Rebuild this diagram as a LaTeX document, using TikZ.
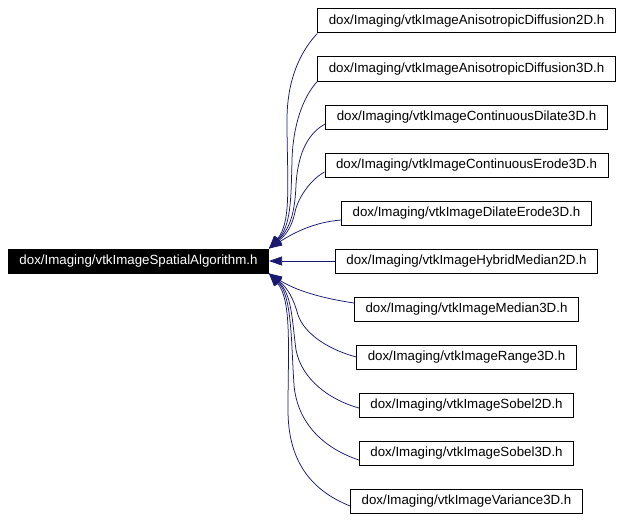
\documentclass[tikz,border=0pt]{standalone}
\usepackage{fontspec}
\setmainfont{Liberation Sans}
\usetikzlibrary{arrows.meta,calc}
\definecolor{edgeblue}{RGB}{25,25,112}
\begin{document}
\begin{tikzpicture}[x=1pt,y=-1pt,
  every node/.style={font=\fontsize{13.3pt}{16pt}\selectfont, inner xsep=11pt, inner ysep=0pt, minimum height=24pt},
  filebox/.style={draw=black, line width=1pt, fill=white, text=black},
  mainbox/.style={draw=black, line width=1pt, fill=black, text=white},
  edge/.style={draw=edgeblue, line width=0.75pt, -{Triangle[length=13pt,width=9pt,fill=edgeblue]}}]
\useasboundingbox (0,0) rectangle (623,519);
\node[mainbox] (main) at (138.5,261) {dox/Imaging/vtkImageSpatialAlgorithm.h};
\node[filebox] (b1) at (466.5,21) {dox/Imaging/vtkImageAnisotropicDiffusion2D.h};
\node[filebox] (b2) at (466.5,69) {dox/Imaging/vtkImageAnisotropicDiffusion3D.h};
\node[filebox] (b3) at (466.5,117) {dox/Imaging/vtkImageContinuousDilate3D.h};
\node[filebox] (b4) at (466.5,165) {dox/Imaging/vtkImageContinuousErode3D.h};
\node[filebox] (b5) at (466.5,213) {dox/Imaging/vtkImageDilateErode3D.h};
\node[filebox] (b6) at (466.5,261) {dox/Imaging/vtkImageHybridMedian2D.h};
\node[filebox] (b7) at (466.5,309) {dox/Imaging/vtkImageMedian3D.h};
\node[filebox] (b8) at (466.5,357) {dox/Imaging/vtkImageRange3D.h};
\node[filebox] (b9) at (466.5,405) {dox/Imaging/vtkImageSobel2D.h};
\node[filebox] (b10) at (466.5,453) {dox/Imaging/vtkImageSobel3D.h};
\node[filebox] (b11) at (466.5,501) {dox/Imaging/vtkImageVariance3D.h};
% upper edges
\draw[edge] (b1.south west) .. controls (300,52) and (287,80) .. (287,120) .. controls (287,180) and (292,222) .. (main.north east);
\draw[edge] (b2.south west) .. controls (303,97) and (293,125) .. (292,160) .. controls (291,200) and (291,226) .. (main.north east);
\draw[edge] ($(b3.west)+(0,7)$) .. controls (310,132) and (298,150) .. (296,185) .. controls (295,210) and (291,228) .. (main.north east);
\draw[edge] ($(b4.west)+(0,7)$) .. controls (310,180) and (298,198) .. (295,212) .. controls (292,226) and (287,234) .. (main.north east);
\draw[edge] ($(b5.west)+(0,7)$) .. controls (315,222) and (295,232) .. (main.north east);
% middle edge
\draw[edge] (b6.west) -- (main.east);
% lower edges
\draw[edge] ($(b7.west)+(0,-6)$) .. controls (320,298) and (295,290) .. (main.south east);
\draw[edge] (b8.west) .. controls (330,350) and (305,335) .. (298,315) .. controls (294,300) and (288,288) .. (main.south east);
\draw[edge] ($(b9.west)+(0,3)$) .. controls (330,400) and (302,380) .. (296,350) .. controls (292,320) and (292,294) .. (main.south east);
\draw[edge] ($(b10.west)+(0,7)$) .. controls (320,447) and (297,420) .. (294,385) .. controls (291,340) and (292,296) .. (main.south east);
\draw[edge] ($(b11.west)+(0,5)$) .. controls (310,490) and (288,460) .. (288,410) .. controls (288,350) and (292,300) .. (main.south east);
\end{tikzpicture}
\end{document}
